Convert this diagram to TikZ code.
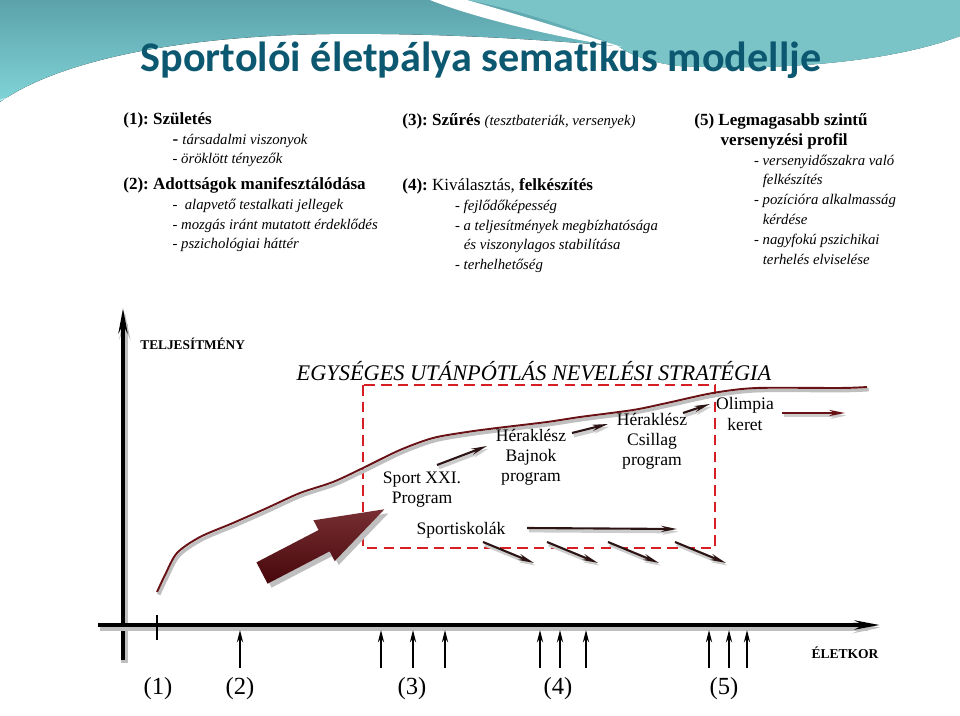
\documentclass[tikz,border=0pt]{standalone}
\usepackage{fontspec}
\setmainfont{Liberation Serif}
\newfontfamily\titlefont[Ligatures=NoCommon]{Carlito}
\usetikzlibrary{arrows.meta}
\frenchspacing

\definecolor{titleblue}{RGB}{12,88,112}
\definecolor{headdark}{RGB}{92,162,170}
\definecolor{headlight}{RGB}{128,212,216}
\definecolor{headright}{RGB}{122,196,200}
\definecolor{curvered}{RGB}{105,18,22}
\definecolor{boxred}{RGB}{215,30,35}
\definecolor{bigarrow}{RGB}{95,10,15}
\definecolor{trendcol}{RGB}{45,20,20}

% sub-item text of the phase descriptions
\newcommand\itm[1]{{\fontsize{8.4}{11.3}\selectfont\itshape #1}}

\begin{document}
\begin{tikzpicture}[
    x=0.02cm, y=-0.02cm,
    every node/.style={inner sep=0pt},
    head/.style={anchor=north west, align=left, font=\fontsize{9.7}{11.3}\selectfont},
    prog/.style={align=center, font=\fontsize{10}{11.4}\selectfont},
    phase/.style={font=\fontsize{14}{16}\selectfont},
    axis line/.style={line width=2.2pt, -{Stealth[length=14pt,width=5pt]},
        preaction={draw=black!25, line width=4pt, transform canvas={shift={(1pt,-1.5pt)}}}},
    trend/.style={trendcol, line width=1.2pt, -{Stealth[length=9pt,width=3.5pt]},
        preaction={draw=black!20, line width=2pt, transform canvas={shift={(1pt,-1.5pt)}}}},
    age arrow/.style={line width=1.1pt, -{Stealth[length=7pt,width=3.5pt]}}
]
    \useasboundingbox (0,0) rectangle (960,716);

    % Header band
    \fill[top color=headdark, bottom color=headlight]
        (0,0) -- (960,0) -- (960,36) .. controls (880,66) and (760,70) .. (680,66)
        .. controls (645,62) and (628,53) .. (618,46)
        .. controls (520,38) and (430,33) .. (330,34)
        .. controls (180,36) and (60,60) .. (0,102) -- cycle;
    \fill[headright] (467,0) .. controls (520,10) and (580,30) .. (618,46)
        .. controls (628,53) and (645,62) .. (680,66)
        .. controls (760,70) and (880,66) .. (960,36) -- (960,0) -- cycle;
    \fill[white] (430,0) .. controls (480,20) and (570,40) .. (622,47)
        .. controls (580,34) and (510,12) .. (467,0) -- cycle;
    \draw[white, opacity=0.6, line width=0.6pt] (0,100) .. controls (150,62) and (400,66) .. (600,72);

    \node[anchor=base, font=\titlefont\bfseries\fontsize{24}{28}\selectfont, text=titleblue]
        (title) at (481,72) {Sportolói életpálya sematikus modellje};

    % Phase descriptions
    \node[head] (born) at (123,112) {\textbf{(1): Születés}\\
        \hspace*{28pt}\textbf{-} \itm{társadalmi viszonyok}\\
        \hspace*{28pt}\itm{- öröklött tényezők}};
    \node[head] (talent) at (123,177) {\textbf{(2): Adottságok manifesztálódása}\\
        \hspace*{28pt}\itm{-~~alapvető testalkati jellegek}\\
        \hspace*{28pt}\itm{- mozgás iránt mutatott érdeklődés}\\
        \hspace*{28pt}\itm{- pszichológiai háttér}};
    \node[head] (filter) at (402,113) {\textbf{(3): Szűrés} \itm{(tesztbateriák, versenyek)}};
    \node[head] (select) at (402,178) {\textbf{(4):} Kiválasztás, \textbf{felkészítés}\\
        \hspace*{30pt}\itm{- fejlődőképesség}\\
        \hspace*{30pt}\itm{- a teljesítmények megbízhatósága}\\
        \hspace*{35pt}\itm{és viszonylagos stabilítása}\\
        \hspace*{30pt}\itm{- terhelhetőség}};
    \node[head] (elite) at (694,113) {\textbf{(5) Legmagasabb szintű}\\
        \hspace*{15pt}\textbf{versenyzési profil}\\
        \hspace*{34pt}\itm{- versenyidőszakra való}\\
        \hspace*{39pt}\itm{felkészítés}\\
        \hspace*{34pt}\itm{- pozícióra alkalmasság}\\
        \hspace*{39pt}\itm{kérdése}\\
        \hspace*{34pt}\itm{- nagyfokú pszichikai}\\
        \hspace*{39pt}\itm{terhelés elviselése}};

    % Axes
    \draw[axis line] (123,660) -- (123,308);
    \draw[axis line] (98,625) -- (880,625);
    \draw[line width=1.5pt] (157,615) -- (157,640);
    \node[anchor=west, font=\bfseries\fontsize{7.6}{8}\selectfont] (perf) at (140,344) {TELJESÍTMÉNY};
    \node[font=\bfseries\fontsize{7.7}{8}\selectfont] (age) at (845,653) {ÉLETKOR};

    % Strategy frame
    \node[font=\itshape\fontsize{12.7}{14}\selectfont] (strategy) at (534,371) {EGYSÉGES UTÁNPÓTLÁS NEVELÉSI STRATÉGIA};
    \draw[boxred, line width=1.2pt, dash pattern=on 6pt off 3.5pt] (363,385) rectangle (715,548);

    % Performance curve
    \draw[black!25, line width=2pt, transform canvas={shift={(1pt,-1.5pt)}}] plot[smooth] coordinates {
        (157,592) (165,575) (177,553) (200,537) (233,523) (267,508) (300,493) (333,482)
        (363,468) (400,450) (433,438) (467,432) (497,428) (547,422) (580,417) (633,410)
        (667,403) (713,393) (757,388) (840,388) (867,387)};
    \draw[curvered, line width=1.1pt] plot[smooth] coordinates {
        (157,592) (165,575) (177,553) (200,537) (233,523) (267,508) (300,493) (333,482)
        (363,468) (400,450) (433,438) (467,432) (497,428) (547,422) (580,417) (633,410)
        (667,403) (713,393) (757,388) (840,388) (867,387)};

    % Programmes
    \node[prog] (sport21) at (422,490) {Sport XXI.\\Program};
    \node[prog] (bajnok) at (531,457) {Héraklész\\Bajnok\\program};
    \node[prog] (csillag) at (652,441) {Héraklész\\Csillag\\program};
    \node[prog] (olimpia) at (745,414) {Olimpia\\keret};
    \node[prog] (iskola) at (461,530) {Sportiskolák};

    \draw[trend] (437,465) -- (487,446);
    \draw[trend] (572,433) -- (608,424);
    \draw[trend] (683,413) -- (710,404);
    \draw[trend, curvered] (782,413) -- (845,413);
    \draw[trend] (527,528) -- (677,529);
    \foreach \sx in {483,547,608,675}
        \draw[trend] (\sx,542) -- ++(51,21);

    % Big arrow
    \fill[black!25, shift={(266,577)}, rotate=27.5]
        (0,-12) -- (70,-12) -- (70,-23) -- (138,0) -- (70,23) -- (70,12) -- (0,12) -- cycle;
    \shade[top color=bigarrow!85!white, bottom color=bigarrow!75!black, shift={(262,573)}, rotate=27.5]
        (0,-12) -- (70,-12) -- (70,-23) -- (138,0) -- (70,23) -- (70,12) -- (0,12) -- cycle;

    % Age marks
    \foreach \ax in {240,381,413,445,540,560,586,709,729,747}
        \draw[age arrow] (\ax,668) -- (\ax,630);
    \foreach \px/\num in {158/1,240/2,412/3,558/4,724/5}
        \node[phase] (n\num) at (\px,689) {(\num)};
\end{tikzpicture}
\end{document}
